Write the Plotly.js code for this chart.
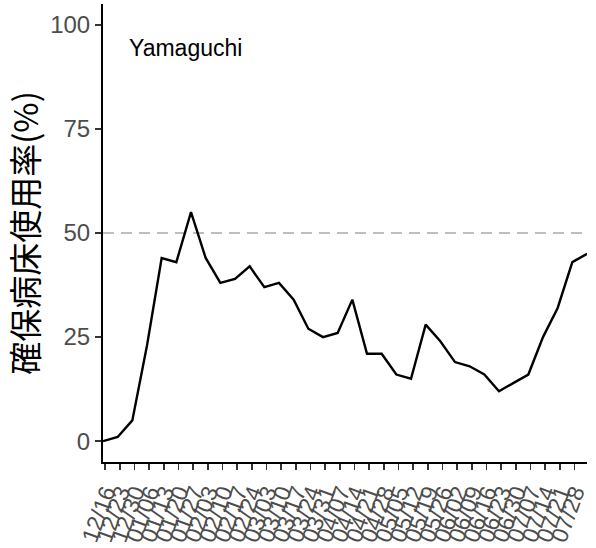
<!DOCTYPE html>
<html>
<head>
<meta charset="utf-8">
<script src="https://cdn.plot.ly/plotly-3.0.1.min.js"></script>
<style>html,body{margin:0;padding:0;background:#fff;}#chart{width:596px;height:548px;}</style>
</head>
<body>
<div id="chart"></div>
<script>
const dates = ["2020-12-15","2020-12-22","2020-12-29","2021-01-05","2021-01-12","2021-01-19","2021-01-26",
  "2021-02-02","2021-02-09","2021-02-16","2021-02-23","2021-03-02","2021-03-09","2021-03-16","2021-03-23",
  "2021-03-30","2021-04-06","2021-04-13","2021-04-20","2021-04-27","2021-05-04","2021-05-11","2021-05-18",
  "2021-05-25","2021-06-01","2021-06-08","2021-06-15","2021-06-22","2021-06-29","2021-07-06","2021-07-13",
  "2021-07-20","2021-07-27","2021-08-03"];
const usageRate = [0,1,5,23,44,43,55,44,38,39,42,37,38,34,27,25,26,34,21,21,16,15,28,24,19,18,16,12,14,16,25,32,43,45];
const tickDates = ["2020-12-16","2020-12-23","2020-12-30","2021-01-06","2021-01-13","2021-01-20","2021-01-27",
  "2021-02-03","2021-02-10","2021-02-17","2021-02-24","2021-03-03","2021-03-10","2021-03-17","2021-03-24",
  "2021-03-31","2021-04-07","2021-04-14","2021-04-21","2021-04-28","2021-05-05","2021-05-12","2021-05-19",
  "2021-05-26","2021-06-02","2021-06-09","2021-06-16","2021-06-23","2021-06-30","2021-07-07","2021-07-14",
  "2021-07-21","2021-07-28"];
const tickLabels = ["12/16","12/23","12/30","01/06","01/13","01/20","01/27","02/03","02/10","02/17","02/24",
  "03/03","03/10","03/17","03/24","03/31","04/07","04/14","04/21","04/28","05/05","05/12","05/19","05/26",
  "06/02","06/09","06/16","06/23","06/30","07/07","07/14","07/21","07/28"];
const yTicks = [0,25,50,75,100];
const threshold = 50;
const region = "Yamaguchi";
const yTitle = "確保病床使用率(%)";

const trace = {
  x: dates, y: usageRate, type: "scatter", mode: "lines",
  line: {color: "#000000", width: 2.4}, hoverinfo: "skip"
};
const layout = {
  width: 596, height: 548,
  margin: {l: 103, r: 9, t: 4, b: 86, pad: 0},
  paper_bgcolor: "#ffffff", plot_bgcolor: "#ffffff",
  showlegend: false,
  font: {family: "Liberation Sans, Arial, sans-serif", color: "#4D4D4D"},
  xaxis: {
    type: "date",
    range: [dates[0], dates[dates.length - 1]],
    tickmode: "array", tickvals: tickDates, ticktext: tickLabels,
    tickangle: -70,
    tickfont: {size: 23, color: "#4D4D4D", family: "Liberation Sans, Arial, sans-serif"},
    ticks: "outside", ticklen: 6, tickwidth: 1.5, tickcolor: "#333333",
    showline: true, linecolor: "#000000", linewidth: 2,
    showgrid: false, zeroline: false, automargin: false
  },
  yaxis: {
    range: [-5, 105],
    tickmode: "array", tickvals: yTicks, ticktext: yTicks.map(String),
    tickfont: {size: 24, color: "#4D4D4D", family: "Liberation Sans, Arial, sans-serif"},
    ticks: "outside", ticklen: 6, tickwidth: 1.5, tickcolor: "#333333",
    showline: true, linecolor: "#000000", linewidth: 2,
    showgrid: false, zeroline: false, automargin: false,
    title: {text: yTitle, font: {size: 33, color: "#000000", family: "Noto Sans CJK JP, sans-serif"}, standoff: 4}
  },
  shapes: [{
    type: "line", xref: "paper", x0: 0, x1: 1, yref: "y", y0: threshold, y1: threshold,
    line: {color: "#BEBEBE", width: 2, dash: "11px,7px"}, layer: "below"
  }],
  annotations: [{
    text: region, xref: "paper", x: 0.05, xanchor: "left",
    yref: "y", y: 94.4, yanchor: "middle", showarrow: false,
    font: {size: 23, color: "#000000", family: "Liberation Sans, Arial, sans-serif"}
  }]
};
Plotly.newPlot("chart", [trace], layout, {staticPlot: true, displayModeBar: false});
</script>
</body>
</html>
